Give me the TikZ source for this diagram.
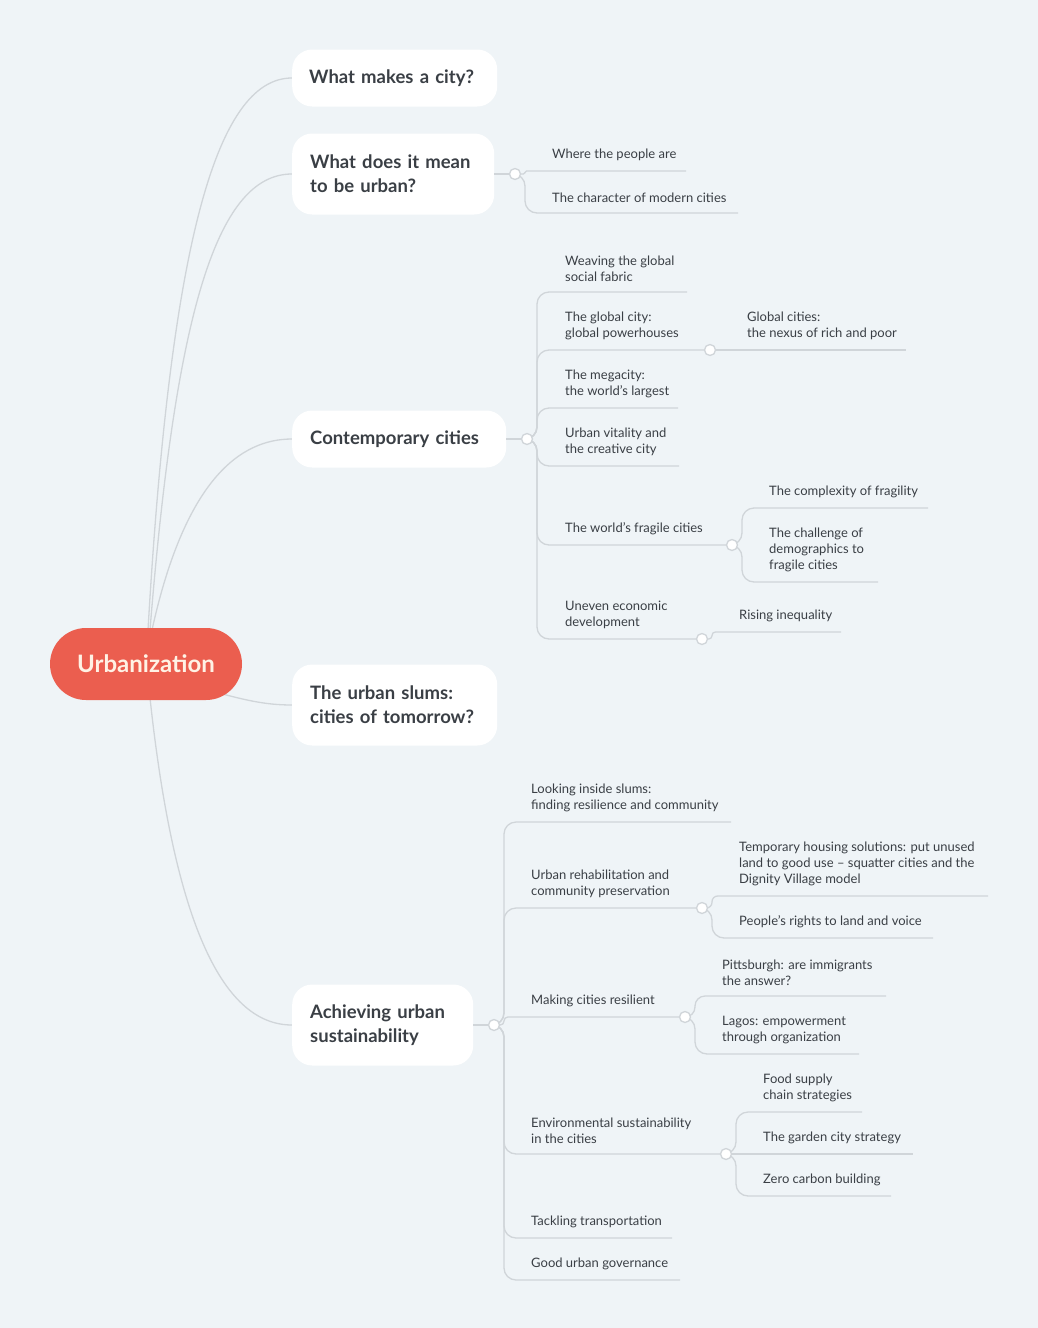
\documentclass[tikz,border=0pt]{standalone}
\usepackage{fontspec}
\setmainfont{Lato}
\definecolor{bg}{HTML}{EFF4F7}
\definecolor{ln}{HTML}{D0D5D9}
\definecolor{rootc}{HTML}{EB5E4F}
\definecolor{txt}{HTML}{3A3F45}
\tikzset{
 lvl/.style={fill=white,rounded corners=20pt,inner sep=0pt,font=\fontsize{18.5}{24}\selectfont\bfseries,text=txt,align=left},
 leaf/.style={anchor=south west,inner sep=0pt,font=\fontsize{13}{16}\selectfont,text=txt,align=left},
 conn/.style={draw=ln,line width=1.3pt},
 curve/.style={draw=ln,line width=1.3pt},
 junc/.style={circle,draw=ln,line width=1.3pt,fill=white,minimum size=11pt,inner sep=0pt},
}
\newcommand{\lf}[7]{% jx jy y textx xend name text
 \pgfmathsetmacro{\rr}{min(12,abs(#3-#2)/2.1)}
 \draw[conn,rounded corners=\rr pt] (#1,#2) -- (#1+10,#2) -- (#1+10,#3) -- (#5,#3);
 \node[leaf] (#6) at (#4,#3-10) {#7};}
\begin{document}
\begin{tikzpicture}[x=1pt,y=-1pt]
\fill[bg] (0,0) rectangle (1038,1328);
\useasboundingbox (0,0) rectangle (1038,1328);
% root curves
\draw[curve] (148,630) .. controls (170,250) and (215,78) .. (292,78);
\draw[curve] (150,630) .. controls (175,320) and (215,174) .. (292,174);
\draw[curve] (152,630) .. controls (185,480) and (240,439) .. (292,439);
\draw[curve] (215,692) .. controls (245,700) and (265,705) .. (292,705);
\draw[curve] (150,698) .. controls (175,930) and (225,1025) .. (292,1025);
% level 1
\node[fill=rootc,rounded corners=36pt,minimum width=192pt,minimum height=72pt,text=white!90!orange,font=\fontsize{24}{28}\selectfont\bfseries] (root) at (146,664) {Urbanization};
\node[lvl,minimum width=205pt,minimum height=57pt,anchor=west,text width=187pt,inner xsep=9pt] (a) at (292,78) {\hspace*{8pt}What makes a city?};
\node[lvl,minimum height=81pt,anchor=west,text width=166pt,inner xsep=18pt] (b) at (292,174) {What does it mean\\to be urban?};
\node[lvl,minimum height=57pt,anchor=west,text width=178pt,inner xsep=18pt] (c) at (292,439) {Contemporary cities};
\node[lvl,minimum height=81pt,anchor=west,text width=169pt,inner xsep=18pt] (d) at (292,705) {The urban slums:\\cities of tomorrow?};
\node[lvl,minimum height=81pt,anchor=west,text width=145pt,inner xsep=18pt] (e) at (292,1025) {Achieving urban\\sustainability};
% b
\draw[conn] (b.east) -- (515,174);
\lf{515}{174}{171}{552}{686}{b1}{Where the people are}
\lf{515}{174}{213}{552}{738}{b2}{The character of modern cities}
\node[junc] (jb) at (515,174) {};
% c
\draw[conn] (c.east) -- (527,439);
\lf{527}{439}{292}{565}{687}{c1}{Weaving the global\\social fabric}
\lf{527}{439}{350}{565}{710}{c2}{The global city:\\global powerhouses}
\lf{527}{439}{408}{565}{678}{c3}{The megacity:\\the world’s largest}
\lf{527}{439}{466}{565}{679}{c4}{Urban vitality and\\the creative city}
\lf{527}{439}{545}{565}{732}{c5}{The world’s fragile cities}
\lf{527}{439}{639}{565}{702}{c6}{Uneven economic\\development}
\node[junc] (jc) at (527,439) {};
\draw[conn] (710,350) -- (906,350);
\node[leaf] (c21) at (747,340) {Global cities:\\the nexus of rich and poor};
\node[junc] (jc2) at (710,350) {};
\lf{732}{545}{508}{769}{928}{c51}{The complexity of fragility}
\lf{732}{545}{582}{769}{878}{c52}{The challenge of\\demographics to\\fragile cities}
\node[junc] (jc5) at (732,545) {};
\lf{702}{639}{632}{739}{841}{c61}{Rising inequality}
\node[junc] (jc6) at (702,639) {};
% e
\draw[conn] (e.east) -- (494,1025);
\lf{494}{1025}{822}{531}{731}{e1}{Looking inside slums:\\finding resilience and community}
\lf{494}{1025}{908}{531}{702}{e2}{Urban rehabilitation and\\community preservation}
\lf{494}{1025}{1017}{531}{685}{e3}{Making cities resilient}
\lf{494}{1025}{1154}{531}{726}{e4}{Environmental sustainability\\in the cities}
\lf{494}{1025}{1238}{531}{672}{e5}{Tackling transportation}
\lf{494}{1025}{1280}{531}{680}{e6}{Good urban governance}
\node[junc] (je) at (494,1025) {};
\lf{702}{908}{896}{739}{988}{e21}{Temporary housing solutions: put unused\\land to good use – squatter cities and the\\Dignity Village model}
\lf{702}{908}{938}{739}{933}{e22}{People’s rights to land and voice}
\node[junc] (je2) at (702,908) {};
\lf{685}{1017}{996}{722}{886}{e31}{Pittsburgh: are immigrants\\the answer?}
\lf{685}{1017}{1054}{722}{859}{e32}{Lagos: empowerment\\through organization}
\node[junc] (je3) at (685,1017) {};
\lf{726}{1154}{1112}{763}{862}{e41}{Food supply\\chain strategies}
\lf{726}{1154}{1154}{763}{913}{e42}{The garden city strategy}
\lf{726}{1154}{1196}{763}{891}{e43}{Zero carbon building}
\node[junc] (je4) at (726,1154) {};
\end{tikzpicture}
\end{document}
